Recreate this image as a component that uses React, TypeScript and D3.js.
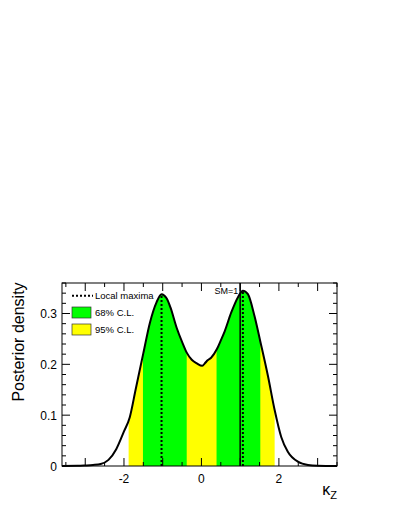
import { useRef, useEffect } from 'react'
import * as d3 from 'd3'

// posterior density of kappa_Z
const kappa = [-3.6, -3.2, -3.0, -2.8, -2.6, -2.4, -2.2, -2.0, -1.85, -1.7, -1.5, -1.33, -1.16, -1.03, -0.9, -0.8, -0.64, -0.5, -0.38, -0.25, -0.12, 0.02, 0.1, 0.16, 0.25, 0.4, 0.5, 0.6, 0.77, 0.95, 1.07, 1.2, 1.37, 1.52, 1.72, 1.89, 2.06, 2.23, 2.5, 2.75, 3.0, 3.5]
const density = [0, 0.0003, 0.001, 0.002, 0.004, 0.012, 0.033, 0.068, 0.096, 0.15, 0.222, 0.282, 0.322, 0.338, 0.33, 0.312, 0.272, 0.244, 0.223, 0.209, 0.202, 0.197, 0.203, 0.208, 0.213, 0.23, 0.247, 0.265, 0.302, 0.333, 0.345, 0.338, 0.295, 0.245, 0.176, 0.11, 0.057, 0.028, 0.008, 0.002, 0.0005, 0]

const band95 = [[-1.88, 1.89]]
const band68 = [[-1.51, -0.38], [0.39, 1.52]]
const localMaxima = [-1.03, 1.07]
const smValue = 1

const xTickLabels = [-2, 0, 2]
const yTickLabels = [0, 0.1, 0.2, 0.3]

const legendItems = ['Local maxima', '68% C.L.', '95% C.L.']

export default function App() {
  const svgRef = useRef<SVGSVGElement>(null)

  useEffect(() => {
    document.body.style.margin = '0'
    const width = 395
    const height = 511
    const margin = { left: 62, right: 58, top: 283, bottom: 45 }
    const bw = width - margin.left - margin.right
    const bh = height - margin.top - margin.bottom

    const svg = d3.select(svgRef.current)
    svg.selectAll('*').remove()
    svg.attr('width', width).attr('height', height)

    const g = svg.append('g').attr('transform', `translate(${margin.left},${margin.top})`)

    const x = d3.scaleLinear().domain([-3.6, 3.5]).range([0, bw])
    const y = d3.scaleLinear().domain([0, 0.36]).range([bh, 0])

    const pts = kappa.map((k, i) => ({ k, d: density[i] }))

    const area = d3
      .area<{ k: number; d: number }>()
      .x((d) => x(d.k))
      .y0(y(0))
      .y1((d) => y(d.d))
      .curve(d3.curveMonotoneX)

    const line = d3
      .line<{ k: number; d: number }>()
      .x((d) => x(d.k))
      .y((d) => y(d.d))
      .curve(d3.curveMonotoneX)

    const defs = svg.append('defs')
    const drawBand = (bands: number[][], id: string, color: string) => {
      const cp = defs.append('clipPath').attr('id', id)
      bands.forEach(([a, b]) => {
        cp.append('rect').attr('x', x(a)).attr('y', 0).attr('width', x(b) - x(a)).attr('height', bh)
      })
      g.append('path').datum(pts).attr('d', area).attr('fill', color).attr('clip-path', `url(#${id})`)
    }
    drawBand(band95, 'clip95', '#ffff00')
    drawBand(band68, 'clip68', '#00ff00')

    // local maxima dotted lines
    const interp = (k: number) => {
      const i = d3.bisector((d: { k: number }) => d.k).left(pts, k)
      const a = pts[i - 1], b = pts[i]
      return a.d + ((b.d - a.d) * (k - a.k)) / (b.k - a.k)
    }
    localMaxima.forEach((k) => {
      g.append('line')
        .attr('x1', x(k)).attr('x2', x(k))
        .attr('y1', y(0)).attr('y2', y(interp(k)) + 1)
        .attr('stroke', '#000').attr('stroke-width', 2).attr('stroke-dasharray', '2,2')
    })

    const font = 'Liberation Sans, Arial, sans-serif'

    // SM line
    g.append('line')
      .attr('x1', x(smValue)).attr('x2', x(smValue))
      .attr('y1', 0).attr('y2', bh)
      .attr('stroke', '#000').attr('stroke-width', 1.5)
    g.append('text')
      .attr('x', x(smValue) - 2).attr('y', 10.5)
      .attr('text-anchor', 'end')
      .attr('font-family', font)
      .attr('font-size', 9)
      .text(`SM=${smValue}`)

    g.append('path').datum(pts).attr('d', line).attr('fill', 'none').attr('stroke', '#000').attr('stroke-width', 2)

    // frame
    g.append('rect').attr('width', bw).attr('height', bh).attr('fill', 'none').attr('stroke', '#000').attr('stroke-width', 1)

    // x ticks (inside, bottom and top)
    const xMinor = d3.range(-3.5, 3.51, 0.5)
    xMinor.forEach((t) => {
      const len = Number.isInteger(t) ? 8 : 4
      g.append('line').attr('x1', x(t)).attr('x2', x(t)).attr('y1', bh).attr('y2', bh - len).attr('stroke', '#000')
      g.append('line').attr('x1', x(t)).attr('x2', x(t)).attr('y1', 0).attr('y2', len).attr('stroke', '#000')
    })
    xTickLabels.forEach((t) => {
      g.append('text')
        .attr('x', x(t)).attr('y', bh + 17)
        .attr('text-anchor', 'middle')
        .attr('font-family', font).attr('font-size', 12)
        .text(t < 0 ? `-${Math.abs(t)}` : `${t}`)
    })

    // y ticks
    const yMinor = d3.range(0, 0.3601, 0.02)
    yMinor.forEach((t, i) => {
      const len = i % 5 === 0 ? 8 : 4
      g.append('line').attr('x1', 0).attr('x2', len).attr('y1', y(t)).attr('y2', y(t)).attr('stroke', '#000')
      g.append('line').attr('x1', bw).attr('x2', bw - len).attr('y1', y(t)).attr('y2', y(t)).attr('stroke', '#000')
    })
    yTickLabels.forEach((t) => {
      g.append('text')
        .attr('x', -5).attr('y', y(t) + 4.5)
        .attr('text-anchor', 'end')
        .attr('font-family', font).attr('font-size', 12)
        .text(t === 0 ? '0' : d3.format('.1f')(t))
    })

    // axis titles
    svg.append('text')
      .attr('transform', `translate(24,${margin.top + 59}) rotate(-90)`)
      .attr('text-anchor', 'middle')
      .attr('font-family', font).attr('font-size', 16)
      .text('Posterior density')

    const xt = svg.append('text')
      .attr('x', width - margin.right).attr('y', height - 16)
      .attr('text-anchor', 'end')
      .attr('font-family', font)
    xt.append('tspan').attr('font-size', 16).text('κ')
    xt.append('tspan').attr('font-size', 11).attr('dy', 4).text('Z')

    // legend
    const lg = g.append('g').attr('transform', 'translate(10,0)')
    lg.append('line').attr('x1', 0).attr('x2', 21).attr('y1', 12.7).attr('y2', 12.7)
      .attr('stroke', '#000').attr('stroke-width', 2).attr('stroke-dasharray', '2,2')
    lg.append('rect').attr('x', 0).attr('y', 24).attr('width', 19).attr('height', 11)
      .attr('fill', '#00ff00').attr('stroke', '#333').attr('stroke-width', 0.7)
    lg.append('rect').attr('x', 0).attr('y', 41).attr('width', 19).attr('height', 11)
      .attr('fill', '#ffff00').attr('stroke', '#333').attr('stroke-width', 0.7)
    legendItems.forEach((label, i) => {
      lg.append('text')
        .attr('x', 23).attr('y', [16, 33, 50][i])
        .attr('font-family', font).attr('font-size', 9.5)
        .text(label)
    })
  }, [])

  return <svg ref={svgRef} style={{ display: 'block' }} />
}
